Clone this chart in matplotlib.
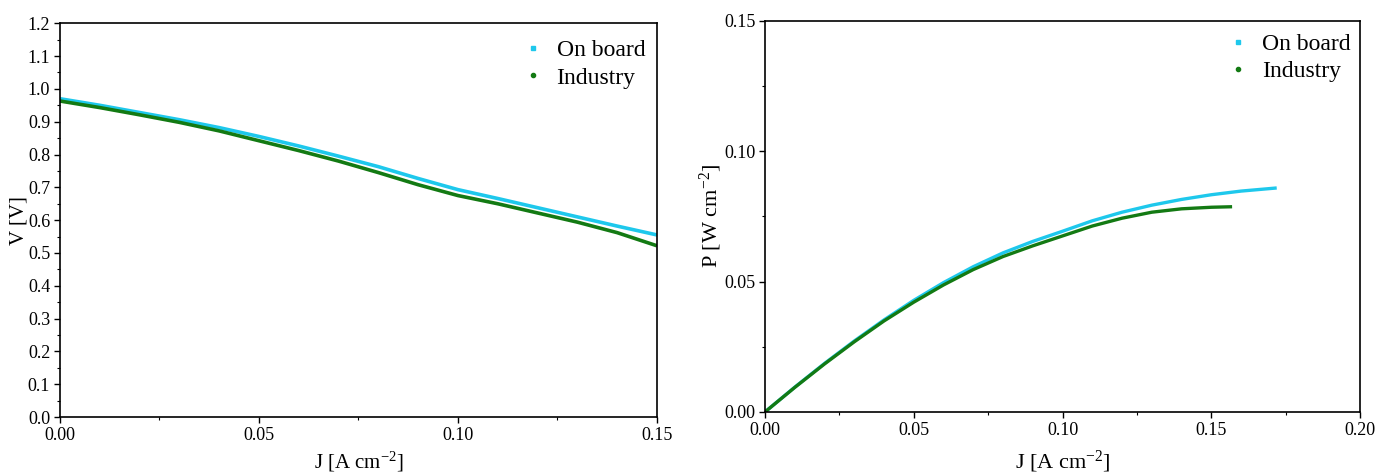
import matplotlib
matplotlib.use('Agg')
import matplotlib.pyplot as plt
from matplotlib.lines import Line2D
from matplotlib.ticker import MultipleLocator, FormatStrFormatter

plt.rcParams['font.family'] = 'Liberation Serif'
plt.rcParams['mathtext.fontset'] = 'custom'
plt.rcParams['mathtext.rm'] = 'Liberation Serif'
plt.rcParams['mathtext.it'] = 'Liberation Serif:italic'

# polarisation curves
j_vi = [0.00, 0.01, 0.02, 0.03, 0.04, 0.05, 0.06, 0.07, 0.08, 0.09,
        0.10, 0.11, 0.12, 0.13, 0.14, 0.15]
v_onboard = [0.970, 0.950, 0.928, 0.906, 0.882, 0.855, 0.826, 0.795, 0.763,
             0.727, 0.693, 0.666, 0.638, 0.610, 0.582, 0.555]
v_industry = [0.963, 0.943, 0.921, 0.898, 0.872, 0.842, 0.812, 0.780, 0.745,
              0.708, 0.675, 0.650, 0.622, 0.594, 0.562, 0.522]

# power density curves
j_p_onboard = [0.00, 0.01, 0.02, 0.03, 0.04, 0.05, 0.06, 0.07, 0.08, 0.09,
               0.10, 0.11, 0.12, 0.13, 0.14, 0.15, 0.16, 0.17, 0.172]
p_onboard = [0.0, 0.0095, 0.0186, 0.0272, 0.0353, 0.0428, 0.0496, 0.0557,
             0.0610, 0.0654, 0.0693, 0.0733, 0.0766, 0.0793, 0.0815, 0.0833,
             0.0847, 0.0857, 0.0859]
j_p_industry = [0.00, 0.01, 0.02, 0.03, 0.04, 0.05, 0.06, 0.07, 0.08, 0.09,
                0.10, 0.11, 0.12, 0.13, 0.14, 0.15, 0.157]
p_industry = [0.0, 0.0094, 0.0184, 0.0269, 0.0349, 0.0421, 0.0487, 0.0546,
              0.0596, 0.0637, 0.0675, 0.0713, 0.0743, 0.0766, 0.0779, 0.0785,
              0.0787]

labels = ['On board', 'Industry']
c_on = '#1ec8ec'
c_ind = '#137a13'

fig = plt.figure(figsize=(13.75, 4.74), dpi=100)
ax1 = fig.add_axes([0.0436, 0.120, 0.4342, 0.831])
ax2 = fig.add_axes([0.5564, 0.131, 0.4327, 0.825])

ax1.plot(j_vi, v_onboard, color=c_on, lw=2.6, solid_capstyle='butt')
ax1.plot(j_vi, v_industry, color=c_ind, lw=2.6, solid_capstyle='butt')
ax2.plot(j_p_onboard, p_onboard, color=c_on, lw=2.4, solid_capstyle='butt')
ax2.plot(j_p_industry, p_industry, color=c_ind, lw=2.4, solid_capstyle='butt')

ax1.set_xlim(0, 0.15)
ax1.set_ylim(0, 1.2)
ax1.xaxis.set_major_locator(MultipleLocator(0.05))
ax1.xaxis.set_minor_locator(MultipleLocator(0.025))
ax1.yaxis.set_major_locator(MultipleLocator(0.1))
ax1.yaxis.set_minor_locator(MultipleLocator(0.05))
ax1.xaxis.set_major_formatter(FormatStrFormatter('%.2f'))
ax1.yaxis.set_major_formatter(FormatStrFormatter('%.1f'))
ax1.set_xlabel('J [A cm$^{-2}$]', fontsize=15, labelpad=4)
ax1.set_ylabel('V [V]', fontsize=15, labelpad=-1)

ax2.set_xlim(0, 0.20)
ax2.set_ylim(0, 0.15)
ax2.xaxis.set_major_locator(MultipleLocator(0.05))
ax2.xaxis.set_minor_locator(MultipleLocator(0.025))
ax2.yaxis.set_major_locator(MultipleLocator(0.05))
ax2.yaxis.set_minor_locator(MultipleLocator(0.025))
ax2.xaxis.set_major_formatter(FormatStrFormatter('%.2f'))
ax2.yaxis.set_major_formatter(FormatStrFormatter('%.2f'))
ax2.set_xlabel('J [A cm$^{-2}$]', fontsize=16, labelpad=7)
ax2.set_ylabel('P [W cm$^{-2}$]', fontsize=16, labelpad=0)

for ax, anchor in ((ax1, (1.008, 1.0)), (ax2, (1.012, 1.01))):
    ax.tick_params(which='major', direction='out', length=4, width=1,
                   labelsize=13, pad=3)
    ax.tick_params(which='minor', direction='out', length=2, width=0.8)
    for s in ax.spines.values():
        s.set_linewidth(1.2)
    handles = [Line2D([], [], ls='', marker='s', ms=3, color=c_on),
               Line2D([], [], ls='', marker='o', ms=3, color=c_ind)]
    ax.legend(handles, labels, loc='upper right', bbox_to_anchor=anchor,
              frameon=False, fontsize=17, handletextpad=0.0,
              labelspacing=0.25, borderaxespad=0.3)

fig.savefig('out.png', dpi=100)
